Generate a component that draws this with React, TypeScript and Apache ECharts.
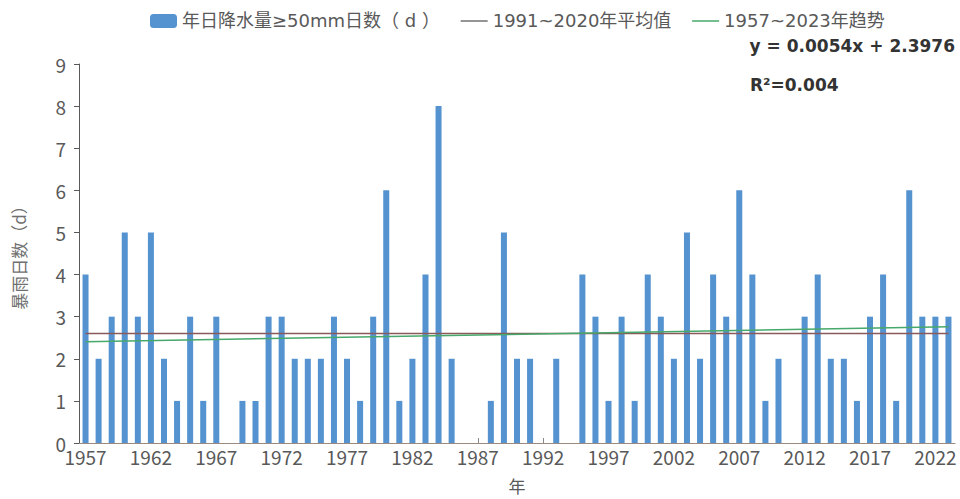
import React, { useEffect, useRef } from "react";
import * as echarts from "echarts";

const years: string[] = [];
for (let y = 1957; y <= 2023; y++) years.push(String(y));

const stormDays: number[] = [
  4, 2, 3, 5, 3, 5, 2, 1, 3, 1, 3, 0, 1, 1, 3, 3, 2, 2, 2, 3, 2, 1, 3,
  6, 1, 2, 4, 8, 2, 0, 0, 1, 5, 2, 2, 0, 2, 0, 4, 3, 1, 3, 1, 4, 3,
  2, 5, 2, 4, 3, 6, 4, 1, 2, 0, 3, 4, 2, 2, 1, 3, 4, 1, 6, 3, 3, 3,
];

const normalValue = 2.6; // 1991~2020 average
const trendStart = 2.403; // trend value at 1957
const trendEnd = 2.76; // trend value at 2023

const seriesNames = ["年日降水量≥50mm日数（ d ）", "1991~2020年平均值", "1957~2023年趋势"];
const equationText = "y = 0.0054x + 2.3976";
const r2Text = "R²=0.004";

export default function App() {
  const ref = useRef<HTMLDivElement>(null);
  useEffect(() => {
    if (!ref.current) return;
    const chart = echarts.init(ref.current, null, { renderer: "svg" });
    const n = years.length;
    const avgData = years.map(() => normalValue);
    const trendData = years.map((_, i) => (i === 0 ? trendStart : i === n - 1 ? trendEnd : null));
    const font = "'Noto Sans CJK SC', 'Noto Sans', sans-serif";
    const legendFont = "'DejaVu Sans', 'Noto Sans CJK SC', sans-serif";
    const eqFont = "'DejaVu Sans', sans-serif";
    const hiddenSymbol = { color: "rgba(0,0,0,0)", borderWidth: 0, opacity: 0 };
    chart.setOption({
      animation: false,
      textStyle: { fontFamily: font },
      legend: {
        top: 7,
        left: 145,
        itemWidth: 27,
        itemHeight: 14,
        itemGap: 20,
        textStyle: { fontSize: 18, color: "#595959", fontFamily: legendFont },
        data: [
          { name: seriesNames[0], icon: "roundRect" },
          { name: seriesNames[1], itemStyle: hiddenSymbol, lineStyle: { color: "#707070", width: 1.5 } },
          { name: seriesNames[2], itemStyle: hiddenSymbol, lineStyle: { color: "#46a86a", width: 1.5 } },
        ],
      },
      graphic: [
        {
          type: "text",
          right: 5,
          top: 37,
          style: { text: equationText, fontSize: 17, fontWeight: "bold", fill: "#333", fontFamily: eqFont },
        },
        {
          type: "text",
          left: 750,
          top: 76,
          style: { text: r2Text, fontSize: 17, fontWeight: "bold", fill: "#333", fontFamily: eqFont },
        },
      ],
      grid: { left: 79, right: 5, top: 64, bottom: 52 },
      xAxis: {
        type: "category",
        data: years,
        name: "年",
        nameLocation: "middle",
        nameGap: 34,
        nameTextStyle: { fontSize: 17, color: "#595959" },
        axisLine: { lineStyle: { color: "#9a8a80", width: 1 } },
        axisTick: { show: true, interval: 4, inside: true, alignWithLabel: true, length: 5, lineStyle: { color: "#888" } },
        axisLabel: { interval: 4, fontSize: 19, color: "#595959", margin: 5, lineHeight: 16 },
      },
      yAxis: {
        type: "value",
        min: 0,
        max: 9,
        interval: 1,
        name: "暴雨日数（d）",
        nameLocation: "middle",
        nameGap: 52,
        nameRotate: 90,
        nameTextStyle: { fontSize: 17, color: "#707070" },
        axisLine: { show: true, lineStyle: { color: "#595959" } },
        axisTick: { show: true, length: 5, lineStyle: { color: "#595959" } },
        axisLabel: { fontSize: 19, color: "#595959", margin: 13, lineHeight: 14 },
        splitLine: { show: false },
      },
      series: [
        {
          name: seriesNames[0],
          type: "bar",
          data: stormDays,
          barWidth: "46%",
          itemStyle: { color: "#5593d0" },
        },
        {
          name: seriesNames[1],
          type: "line",
          data: avgData,
          symbol: "none",
          lineStyle: { color: "#8a5a5a", width: 1.3 },
          itemStyle: { color: "#6e6e6e" },
          z: 3,
        },
        {
          name: seriesNames[2],
          type: "line",
          data: trendData,
          connectNulls: true,
          symbol: "none",
          lineStyle: { color: "#46a86a", width: 1.5 },
          itemStyle: { color: "#46a86a" },
          z: 4,
        },
      ],
    });
    return () => chart.dispose();
  }, []);
  return (
    <div
      ref={ref}
      style={{ position: "absolute", left: 0, top: 0, width: 960, height: 499 }}
    />
  );
}
